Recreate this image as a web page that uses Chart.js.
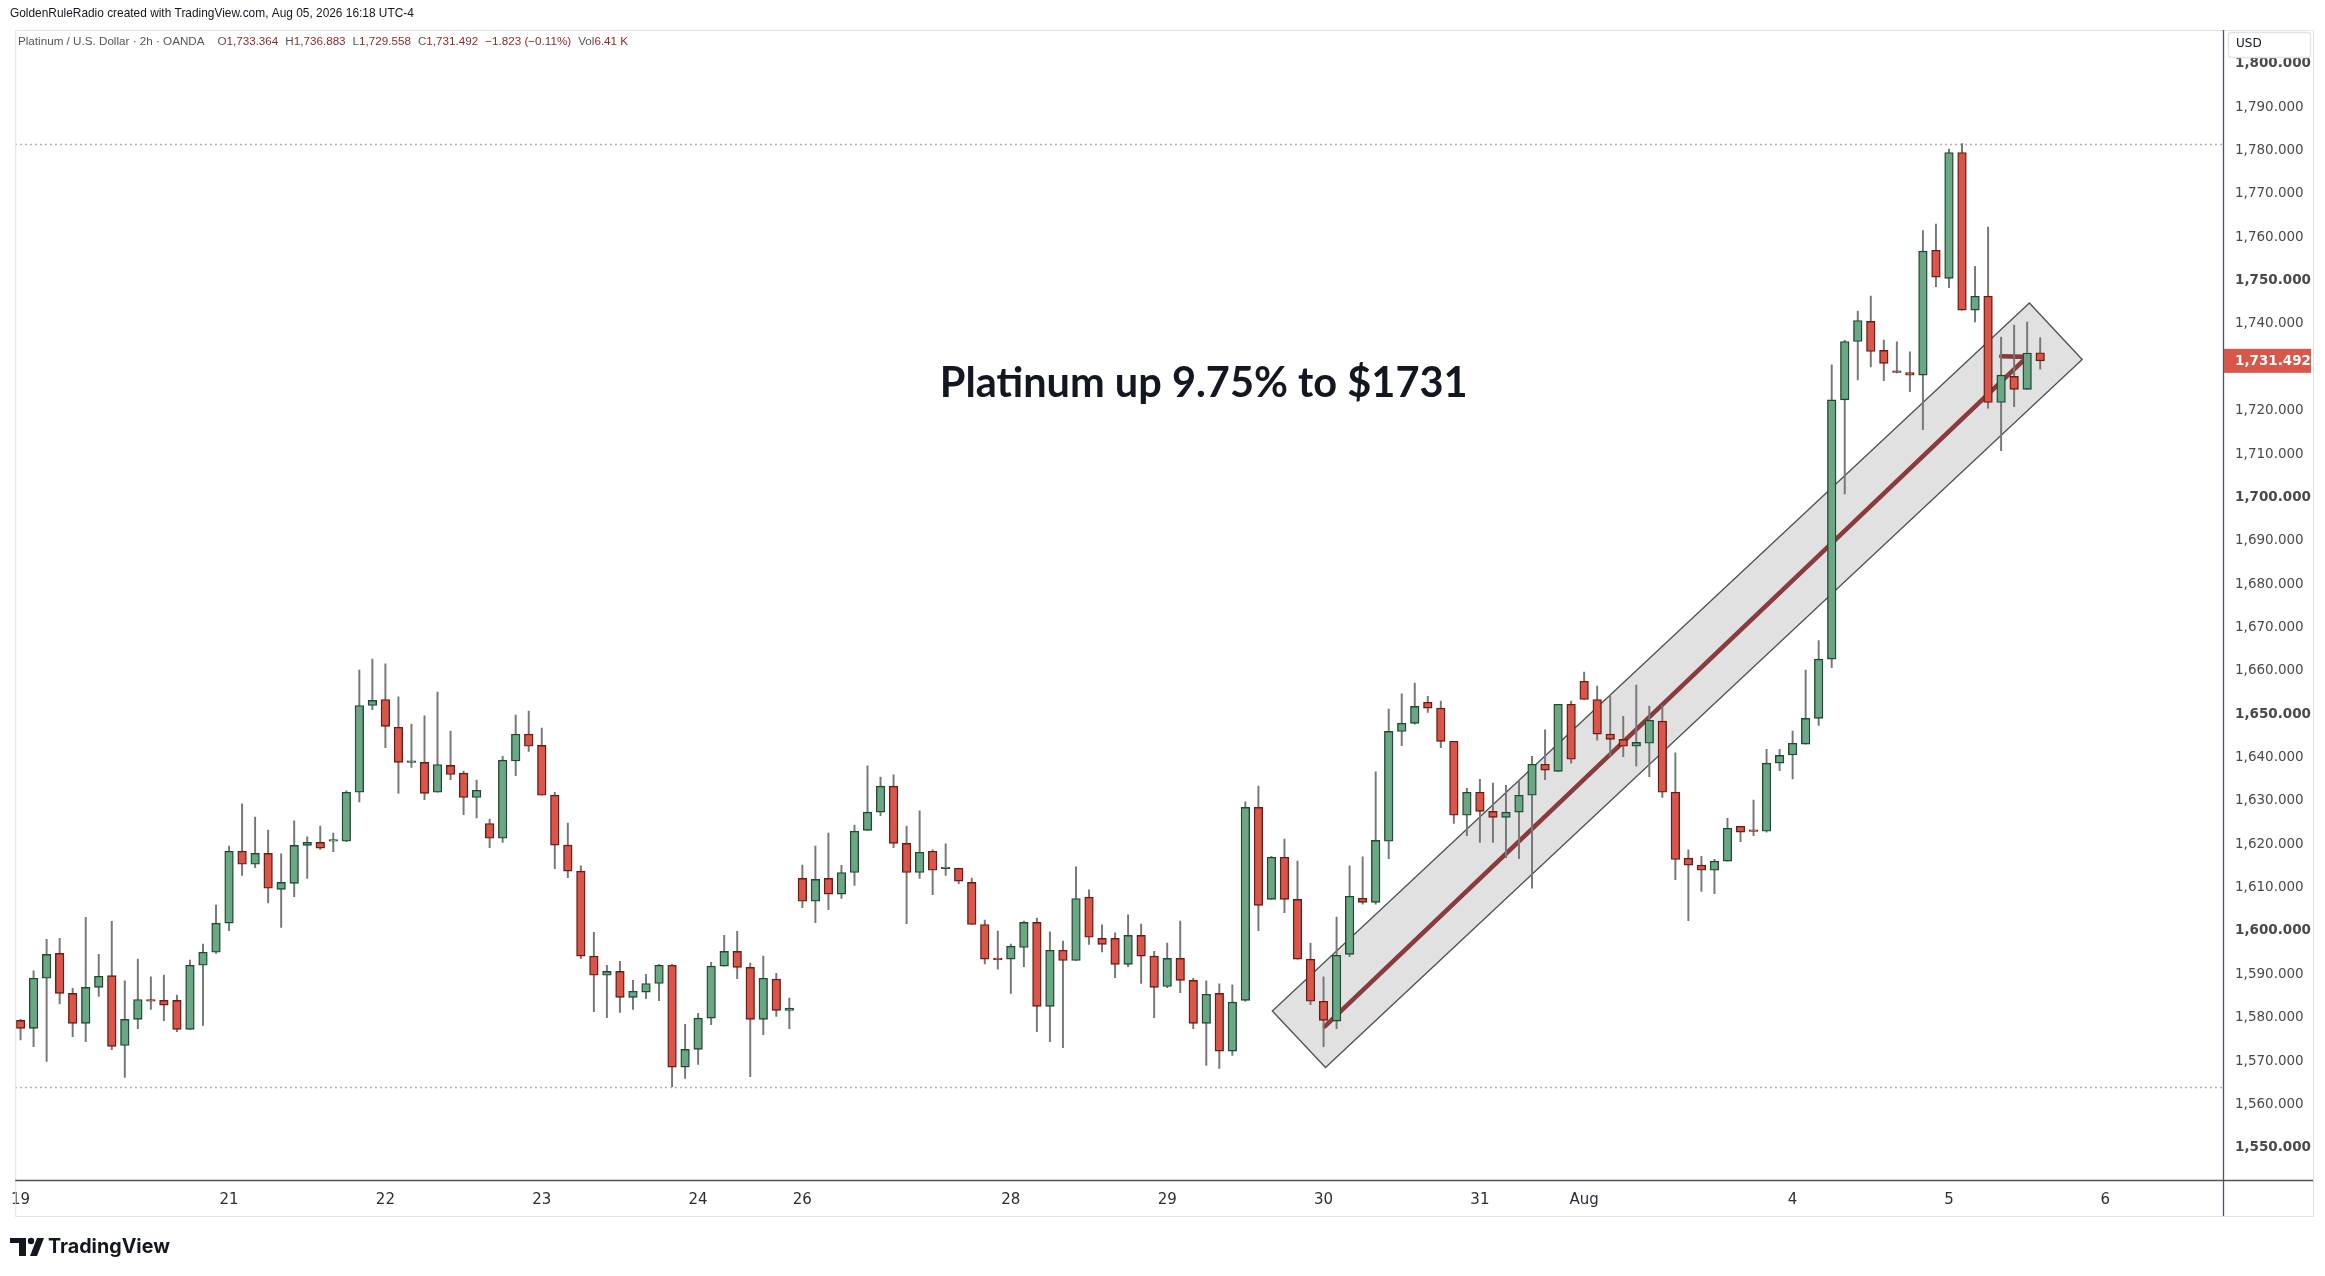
<!DOCTYPE html>
<html lang="en">
<head>
<meta charset="UTF-8">
<title>Platinum / U.S. Dollar 2h</title>
<script src="https://cdn.jsdelivr.net/npm/chart.js"></script>
<style>
  html, body { margin: 0; padding: 0; background: #ffffff; }
  canvas { display: block; }
</style>
</head>
<body>
<canvas id="chart" width="2325" height="1276"></canvas>
<script>
// 2h candles, one per slot
const opens = [
  1579.4, 1577.55, 1589.1, 1594.85, 1585.6, 1578.7, 1587.0, 1589.7, 1573.6, 1579.6,
  1584.2, 1584.0, 1584.0, 1577.3, 1592.1, 1595.1, 1601.8, 1618.4, 1615.4, 1617.9,
  1609.6, 1611.0, 1619.75, 1620.45, 1620.7, 1620.7, 1632.0, 1652.0, 1653.4, 1647.0,
  1638.9, 1638.9, 1632.0, 1638.2, 1636.4, 1630.8, 1624.8, 1621.4, 1639.2, 1645.4,
  1642.8, 1631.3, 1619.8, 1613.8, 1594.2, 1589.8, 1590.7, 1584.7, 1585.9, 1587.9,
  1592.1, 1568.6, 1572.7, 1579.9, 1591.9, 1595.3, 1591.6, 1579.6, 1588.9, 1581.7,
  1612.15, 1606.85, 1612.15, 1608.5, 1613.5, 1623.2, 1627.4, 1633.4, 1620.2, 1613.5,
  1618.4, 1614.4, 1614.46, 1611.2, 1601.5, 1593.5, 1593.5, 1596.2, 1602.0, 1582.6,
  1595.55, 1593.2, 1607.8, 1598.3, 1598.3, 1592.3, 1599.0, 1594.2, 1587.2, 1593.7,
  1588.6, 1578.7, 1585.6, 1572.3, 1584.0, 1628.5, 1607.3, 1617.0, 1607.3, 1593.5,
  1583.8, 1579.2, 1594.6, 1607.55, 1606.6, 1620.7, 1646.0, 1647.9, 1652.75, 1651.4,
  1643.75, 1626.7, 1632.0, 1627.6, 1626.2, 1627.4, 1631.3, 1638.45, 1636.8, 1652.3,
  1657.6, 1653.4, 1645.4, 1644.2, 1642.6, 1643.3, 1648.4, 1632.0, 1616.8, 1615.2,
  1614.0, 1616.1, 1624.15, 1623.0, 1623.0, 1638.7, 1640.6, 1643.1, 1649.05, 1662.7,
  1722.5, 1735.95, 1740.6, 1733.9, 1728.9, 1728.8, 1728.2, 1757.0, 1750.5, 1779.55,
  1743.2, 1746.4, 1721.9, 1727.9, 1724.9, 1733.364
];
const highs = [
  1579.6, 1590.8, 1598.1, 1598.3, 1586.8, 1603.15, 1594.6, 1602.2, 1588.5, 1593.5,
  1589.4, 1589.85, 1585.2, 1593.3, 1597.0, 1606.0, 1619.6, 1629.3, 1626.3, 1623.3,
  1617.8, 1625.4, 1621.7, 1624.2, 1622.6, 1632.3, 1660.2, 1662.7, 1661.6, 1654.0,
  1647.7, 1649.6, 1655.1, 1646.1, 1636.9, 1634.8, 1625.8, 1640.3, 1649.8, 1650.7,
  1646.8, 1632.0, 1624.9, 1615.0, 1599.7, 1592.1, 1593.0, 1588.6, 1590.0, 1592.3,
  1592.3, 1578.5, 1581.0, 1592.8, 1599.0, 1599.9, 1592.6, 1594.2, 1590.25, 1584.5,
  1615.2, 1619.6, 1622.6, 1615.15, 1624.4, 1638.1, 1635.5, 1636.0, 1624.2, 1627.7,
  1618.7, 1620.1, 1614.5, 1612.2, 1602.5, 1600.0, 1597.0, 1602.3, 1603.0, 1599.8,
  1597.7, 1614.8, 1609.5, 1601.4, 1599.55, 1603.7, 1601.6, 1595.3, 1597.2, 1602.3,
  1589.1, 1588.5, 1587.8, 1587.6, 1629.8, 1633.4, 1617.2, 1621.2, 1616.15, 1597.2,
  1589.4, 1603.2, 1615.0, 1617.1, 1636.7, 1651.2, 1654.7, 1657.2, 1654.1, 1653.0,
  1643.75, 1632.9, 1635.0, 1634.1, 1633.6, 1634.8, 1640.3, 1646.4, 1652.3, 1653.0,
  1659.7, 1656.5, 1654.1, 1649.5, 1656.7, 1651.9, 1652.05, 1641.1, 1618.7, 1617.2,
  1616.5, 1626.0, 1624.15, 1630.2, 1641.9, 1641.9, 1646.1, 1660.2, 1667.0, 1730.6,
  1736.2, 1743.0, 1746.45, 1736.3, 1735.9, 1733.6, 1761.55, 1763.05, 1780.35, 1781.6,
  1753.3, 1762.35, 1737.0, 1739.75, 1740.45, 1736.883
];
const lows = [
  1574.9, 1573.3, 1569.9, 1583.2, 1575.6, 1574.5, 1584.9, 1572.6, 1566.2, 1577.5,
  1581.9, 1579.3, 1576.8, 1577.3, 1578.2, 1594.8, 1600.1, 1612.8, 1614.6, 1606.5,
  1600.8, 1607.9, 1612.1, 1618.8, 1618.3, 1620.6, 1629.75, 1651.05, 1642.3, 1631.7,
  1637.7, 1630.3, 1632.0, 1634.9, 1626.8, 1626.1, 1619.2, 1620.45, 1635.8, 1641.4,
  1631.3, 1614.4, 1612.3, 1593.6, 1581.4, 1580.0, 1581.2, 1581.9, 1584.4, 1583.95,
  1564.1, 1566.0, 1569.2, 1578.4, 1591.9, 1589.0, 1566.4, 1576.1, 1580.3, 1577.5,
  1605.4, 1601.9, 1604.9, 1607.5, 1610.5, 1623.2, 1626.6, 1619.2, 1601.7, 1612.1,
  1608.4, 1612.8, 1610.9, 1601.5, 1592.4, 1591.2, 1585.6, 1591.8, 1576.8, 1574.5,
  1573.1, 1593.2, 1596.9, 1595.2, 1589.25, 1591.8, 1587.9, 1580.0, 1586.9, 1585.8,
  1577.5, 1569.0, 1568.3, 1571.3, 1583.8, 1600.1, 1607.3, 1604.2, 1593.5, 1583.0,
  1573.3, 1577.5, 1594.1, 1606.2, 1606.2, 1616.7, 1642.75, 1647.7, 1650.4, 1642.3,
  1624.8, 1622.0, 1620.4, 1620.4, 1616.9, 1616.7, 1609.85, 1634.9, 1636.8, 1638.7,
  1653.4, 1644.0, 1640.3, 1640.2, 1638.1, 1635.6, 1630.8, 1611.85, 1602.4, 1609.1,
  1608.6, 1616.1, 1620.6, 1622.0, 1622.8, 1637.0, 1635.1, 1643.1, 1647.4, 1660.75,
  1700.8, 1727.1, 1730.1, 1726.95, 1728.7, 1724.4, 1715.65, 1748.6, 1748.4, 1743.2,
  1740.5, 1720.6, 1710.8, 1720.95, 1724.9, 1729.558
];
const closes = [
  1577.55, 1589.1, 1594.6, 1585.6, 1578.7, 1587.0, 1589.55, 1573.4, 1579.6, 1584.2,
  1583.8, 1582.9, 1577.3, 1592.1, 1595.1, 1601.8, 1618.4, 1615.4, 1617.9, 1609.85,
  1611.2, 1619.75, 1620.45, 1619.1, 1621.1, 1632.0, 1652.0, 1653.2, 1647.2, 1638.9,
  1639.0, 1631.75, 1638.4, 1636.1, 1630.8, 1632.45, 1621.4, 1639.4, 1645.4, 1642.6,
  1631.3, 1619.8, 1613.8, 1594.2, 1589.8, 1590.7, 1584.7, 1586.1, 1587.9, 1592.1,
  1568.6, 1572.7, 1579.9, 1591.9, 1595.3, 1591.6, 1579.6, 1589.1, 1581.7, 1582.2,
  1606.85, 1611.9, 1608.5, 1613.5, 1623.0, 1627.4, 1633.4, 1620.2, 1613.5, 1618.15,
  1614.0, 1614.5, 1611.5, 1601.5, 1593.5, 1593.4, 1596.5, 1602.0, 1582.6, 1595.55,
  1593.2, 1607.5, 1598.55, 1596.9, 1592.3, 1599.0, 1594.2, 1587.0, 1593.7, 1588.6,
  1578.7, 1585.4, 1572.3, 1583.6, 1628.5, 1605.9, 1617.0, 1607.3, 1593.5, 1583.8,
  1579.4, 1594.4, 1608.0, 1606.6, 1620.9, 1646.05, 1647.9, 1651.8, 1651.4, 1643.75,
  1626.7, 1632.0, 1627.6, 1626.2, 1627.4, 1631.3, 1638.45, 1637.1, 1652.3, 1639.6,
  1653.4, 1645.4, 1644.2, 1642.6, 1643.5, 1648.6, 1632.0, 1616.5, 1615.2, 1614.0,
  1616.1, 1623.7, 1622.8, 1622.95, 1638.7, 1640.5, 1643.3, 1649.05, 1662.7, 1722.5,
  1735.95, 1740.8, 1733.65, 1730.9, 1728.8, 1728.2, 1756.8, 1750.8, 1779.55, 1743.2,
  1746.4, 1721.9, 1728.2, 1724.9, 1733.315, 1731.492
];

// day labels sit on the first candle of each session
const tickIdx = [0, 16, 28, 40, 52, 60, 76, 88, 100, 112, 120, 136, 148, 160];
const tickLabels = ['19', '21', '22', '23', '24', '26', '28', '29', '30', '31', 'Aug', '4', '5', '6'];
const priceTicks = [1550, 1560, 1570, 1580, 1590, 1600, 1610, 1620, 1630, 1640, 1650, 1660, 1670,
  1680, 1690, 1700, 1710, 1720, 1730, 1740, 1750, 1760, 1770, 1780, 1790, 1800];

// drawings, as [candle index, price]
const channelPts = [[96.07, 1581.55], [100.15, 1568.5], [158.22, 1731.8], [154.17, 1744.86]];
const arrowFrom = [100.1, 1578.0];
const arrowTo = [154.0, 1732.4];
const noteText = 'Platinum up 9.75% to $1731';
const notePos = [90.8, 1726.2];

const headerText = 'GoldenRuleRadio created with TradingView.com, Aug 05, 2026 16:18 UTC-4';
const symbolText = 'Platinum / U.S. Dollar \u00b7 2h \u00b7 OANDA';
const volText = '6.41 K';

const UP = '#6ba784', UP_LINE = '#1f4b32';
const DOWN = '#d9564a', DOWN_LINE = '#6b1c14';
const WICK = '#777777';
const VAL_RED = '#8c2a2a';

const idx = opens.map((_, i) => i);
const isUp = i => closes[i] >= opens[i];
const fmt = v => v.toLocaleString('en-US', { minimumFractionDigits: 3, maximumFractionDigits: 3 });

function fitFont(ctx, text, weight, family, width) {
    ctx.font = weight + ' 100px ' + family;
    return 100 * width / ctx.measureText(text).width;
}

const overlay = {
    id: 'overlay',
    beforeDatasetsDraw(chart) {
        const { ctx, chartArea: a, scales: { x, y } } = chart;
        ctx.save();
        ctx.beginPath();
        ctx.rect(a.left, a.top, a.right - a.left, a.bottom - a.top);
        ctx.clip();

        // high / low price lines
        ctx.setLineDash([1.5, 3.5]);
        ctx.strokeStyle = '#9a9a9a';
        ctx.lineWidth = 1.3;
        [Math.max(...highs), Math.min(...lows)].forEach(p => {
            const py = Math.round(y.getPixelForValue(p)) + 0.5;
            ctx.beginPath();
            ctx.moveTo(a.left, py);
            ctx.lineTo(a.right, py);
            ctx.stroke();
        });
        ctx.setLineDash([]);

        // channel
        ctx.beginPath();
        channelPts.forEach(([i, p], k) => {
            const px = x.getPixelForValue(i), py = y.getPixelForValue(p);
            if (k === 0) ctx.moveTo(px, py); else ctx.lineTo(px, py);
        });
        ctx.closePath();
        ctx.fillStyle = '#e1e1e1';
        ctx.fill();
        ctx.strokeStyle = '#4e5955';
        ctx.lineWidth = 1.4;
        ctx.stroke();

        // arrow
        const x0 = x.getPixelForValue(arrowFrom[0]), y0 = y.getPixelForValue(arrowFrom[1]);
        const x1 = x.getPixelForValue(arrowTo[0]), y1 = y.getPixelForValue(arrowTo[1]);
        const ang = Math.atan2(y1 - y0, x1 - x0);
        ctx.strokeStyle = '#8b3b3b';
        ctx.lineWidth = 4.6;
        ctx.lineCap = 'round';
        ctx.beginPath();
        ctx.moveTo(x0, y0);
        ctx.lineTo(x1, y1);
        [Math.PI - Math.PI / 4, Math.PI + Math.PI / 4].forEach(d => {
            ctx.moveTo(x1, y1);
            ctx.lineTo(x1 + 26 * Math.cos(ang + d), y1 + 26 * Math.sin(ang + d));
        });
        ctx.stroke();
        ctx.restore();

        // note
        ctx.save();
        const size = fitFont(ctx, noteText, 'bold', 'Lato', 528);
        ctx.font = 'bold ' + size.toFixed(1) + 'px Lato';
        ctx.fillStyle = '#131722';
        ctx.textAlign = 'center';
        ctx.textBaseline = 'middle';
        ctx.fillText(noteText, x.getPixelForValue(notePos[0]), y.getPixelForValue(notePos[1]));
        ctx.restore();
    },
    afterDraw(chart) {
        const { ctx, chartArea: a, scales: { y } } = chart;
        ctx.save();

        // panel frame and axis lines
        ctx.strokeStyle = '#e0e3eb';
        ctx.lineWidth = 1;
        ctx.strokeRect(a.left + 0.5, a.top + 0.5, 2313 - a.left, 1216 - a.top);
        ctx.strokeStyle = '#50535e';
        ctx.lineWidth = 1.3;
        ctx.beginPath();
        ctx.moveTo(a.right + 0.5, a.top);
        ctx.lineTo(a.right + 0.5, 1216);
        ctx.moveTo(a.left, a.bottom + 0.5);
        ctx.lineTo(2313, a.bottom + 0.5);
        ctx.stroke();

        // USD box (sits over the top of the 1,800 label)
        ctx.fillStyle = '#ffffff';
        ctx.strokeStyle = '#e0e3eb';
        ctx.beginPath();
        ctx.roundRect(2228.5, 32.5, 82, 25, 3);
        ctx.fill();
        ctx.stroke();
        ctx.fillStyle = '#131722';
        ctx.font = '12px "DejaVu Sans"';
        ctx.textBaseline = 'middle';
        ctx.fillText('USD', 2236, 44);

        // last price label
        const last = closes.length - 1;
        const ly = y.getPixelForValue(closes[last]);
        ctx.fillStyle = DOWN;
        ctx.fillRect(a.right + 1, ly - 12, 87, 24);
        ctx.fillStyle = '#ffffff';
        ctx.font = 'bold 13.5px "DejaVu Sans"';
        ctx.fillText(fmt(closes[last]), a.right + 12, ly + 1);

        // header
        ctx.fillStyle = '#131722';
        let s = fitFont(ctx, headerText, 'normal', '"Liberation Sans"', 403);
        ctx.font = s.toFixed(1) + 'px "Liberation Sans"';
        ctx.fillText(headerText, 10, 14);

        // legend line
        const chg = closes[last] - closes[last - 1];
        const pct = chg / closes[last - 1] * 100;
        const signed = v => (v < 0 ? '\u2212' : '+') + Math.abs(v);
        const parts = [
            [symbolText, '#555555', 1.1],
            ['O', '#555555', 0], [fmt(opens[last]), VAL_RED, 0.6],
            ['H', '#555555', 0], [fmt(highs[last]), VAL_RED, 0.6],
            ['L', '#555555', 0], [fmt(lows[last]), VAL_RED, 0.6],
            ['C', '#555555', 0], [fmt(closes[last]), VAL_RED, 0.6],
            [signed(+chg.toFixed(3)) + ' (' + signed(+pct.toFixed(2)) + '%)', VAL_RED, 0.6],
            ['Vol', '#555555', 0], [volText, VAL_RED, 0]
        ];
        // size the line so it spans the same width as the picture
        ctx.font = '100px "Liberation Sans"';
        const total = parts.reduce((w, [t, , g]) => w + ctx.measureText(t).width + g * 100, 0);
        const fs = 100 * 611 / total;
        ctx.font = fs.toFixed(2) + 'px "Liberation Sans"';
        let lx = 18;
        parts.forEach(([t, c, gap]) => {
            ctx.fillStyle = c;
            ctx.fillText(t, lx, 42);
            lx += ctx.measureText(t).width + gap * fs;
        });

        // TradingView mark
        ctx.fillStyle = '#131722';
        ctx.fillRect(10, 1238, 16, 5);
        ctx.fillRect(19, 1238, 7, 18);
        ctx.beginPath();
        ctx.arc(31, 1241, 3.2, 0, Math.PI * 2);
        ctx.fill();
        ctx.beginPath();
        ctx.moveTo(37, 1238);
        ctx.lineTo(44, 1238);
        ctx.lineTo(37, 1256);
        ctx.lineTo(30, 1256);
        ctx.closePath();
        ctx.fill();
        s = fitFont(ctx, 'TradingView', 'bold', 'Inter', 122);
        ctx.font = 'bold ' + s.toFixed(1) + 'px Inter';
        ctx.fillText('TradingView', 48, 1247);
        ctx.restore();
    }
};

new Chart(document.getElementById('chart'), {
    type: 'bar',
    data: {
        datasets: [{
            label: 'body',
            data: idx.map(i => ({ x: i, y: [opens[i], closes[i]] })),
            backgroundColor: c => isUp(c.dataIndex) ? UP : DOWN,
            borderColor: c => isUp(c.dataIndex) ? UP_LINE : DOWN_LINE,
            borderWidth: 1.4,
            borderSkipped: false,
            barThickness: 8.6,
            minBarLength: 1.6,
            grouped: false,
            order: 0
        }, {
            label: 'wick',
            data: idx.map(i => ({ x: i, y: [lows[i], highs[i]] })),
            backgroundColor: WICK,
            borderWidth: 0,
            barThickness: 1.3,
            grouped: false,
            order: 1
        }]
    },
    options: {
        responsive: false,
        devicePixelRatio: 1,
        animation: false,
        layout: { padding: { left: 10, top: 30, right: 0, bottom: 0 } },
        plugins: { legend: { display: false }, tooltip: { enabled: false } },
        scales: {
            x: {
                type: 'linear',
                min: -0.41,
                max: 169.03,
                offset: false,
                grid: { display: false, drawTicks: false },
                border: { display: false },
                afterBuildTicks: sc => { sc.ticks = tickIdx.map(v => ({ value: v })); },
                afterFit: sc => { sc.height = 96; },
                ticks: {
                    autoSkip: false,
                    maxRotation: 0,
                    padding: 11,
                    color: '#2a2e39',
                    font: { family: 'DejaVu Sans', size: 15 },
                    callback: (v, i) => tickLabels[i]
                }
            },
            y: {
                type: 'linear',
                position: 'right',
                min: 1542.57,
                max: 1807.8,
                grid: { display: false, drawTicks: false },
                border: { display: false },
                afterBuildTicks: sc => { sc.ticks = priceTicks.map(v => ({ value: v })); },
                afterFit: sc => { sc.width = 102; },
                ticks: {
                    padding: 12,
                    color: '#4a4a4a',
                    font: c => ({ family: 'DejaVu Sans', size: 13.5,
                        weight: c.tick && c.tick.value % 50 === 0 ? 'bold' : 'normal' }),
                    callback: v => fmt(v)
                }
            }
        }
    },
    plugins: [overlay]
});
</script>
</body>
</html>
